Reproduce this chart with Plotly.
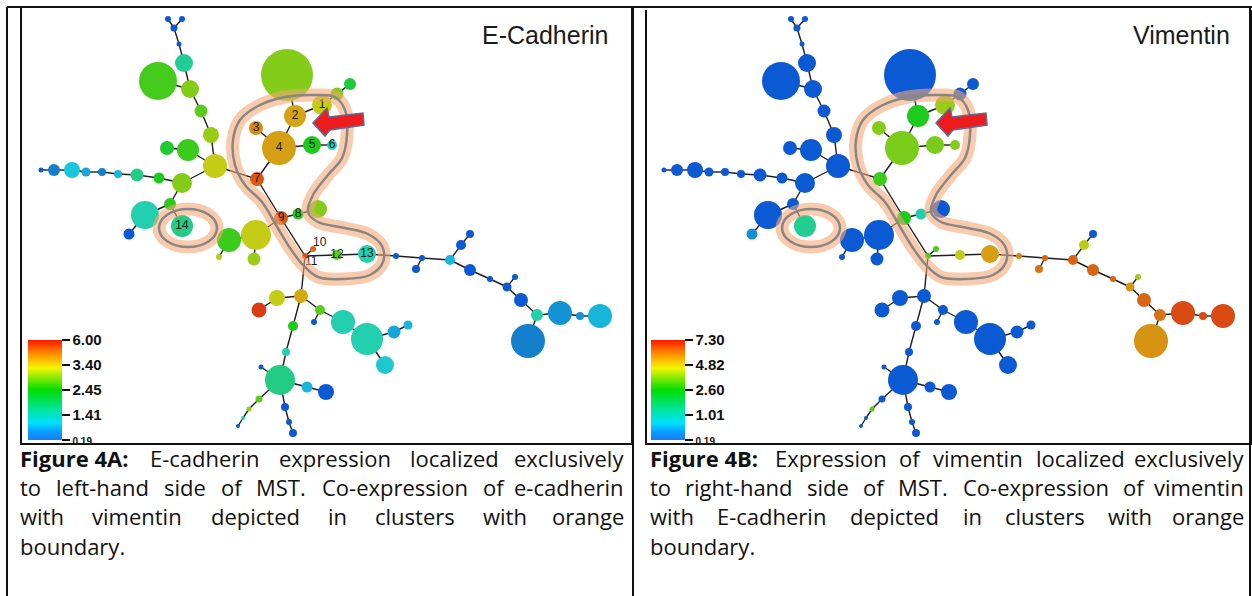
import numpy as np
import plotly.graph_objects as go

W, H = 1252, 596

# ---------------- data: MST nodes (layout px of panel image), sizes, expression ----------------
node_x = [168, 182, 174, 179, 184, 158, 190, 201, 211, 215, 188, 167, 182, 159, 137, 118, 102, 86, 72, 54,
          41, 170, 145, 129, 182, 257, 279, 256, 295, 312, 332, 287, 322, 337, 350, 281, 298, 318, 256, 254,
          229, 219, 305, 313, 337, 367, 396, 422, 416, 450, 461, 470, 470, 490, 507, 515, 521, 537, 560, 580,
          600, 528, 301, 277, 259, 320, 314, 343, 367, 394, 408, 385, 293, 286, 280, 261, 307, 326, 259, 249,
          243, 238, 285, 289, 293]
node_y = [19, 19, 28, 44, 63, 81, 89, 111, 135, 166, 150, 148, 183, 178, 175, 174, 172, 172, 170, 170,
          170, 204, 215, 234, 226, 179, 148, 128, 116, 145, 145, 75, 105, 94, 84, 218, 214, 209, 235, 259,
          240, 257, 256, 249, 255, 254, 256, 258, 269, 260, 245, 234, 270, 279, 287, 277, 300, 315, 313, 316,
          316, 341, 296, 298, 310, 310, 322, 322, 339, 332, 325, 365, 326, 352, 380, 367, 387, 392, 399, 409,
          418, 426, 407, 422, 433]
node_r = [3, 3, 3.5, 2.5, 9, 19, 9, 6.5, 8, 12, 11, 7, 10, 5.5, 6.5, 4, 4, 4.5, 8, 6,
          2.5, 6, 14, 5.5, 11, 7, 17, 7, 11, 9, 5, 26, 10, 6.5, 6, 7, 5.5, 9, 15, 6.5,
          12, 3, 3, 3, 5, 9, 3, 3, 4, 5, 5, 4, 6, 3, 4.5, 3, 7, 6, 12, 4,
          12, 17, 7, 8, 7.5, 5, 3, 12, 16, 6.5, 4.5, 9, 5, 4, 15, 2.5, 5.5, 8, 3.5, 2.5,
          2, 2, 4, 3, 4]
ecad = [0.29, 0.29, 0.29, 0.29, 2.00, 2.60, 2.83, 2.68, 2.94, 3.17,
        2.56, 2.40, 2.83, 2.45, 2.12, 1.21, 0.68, 1.02, 1.41, 0.68,
        0.29, 2.50, 1.83, 0.29, 2.12, 5.17, 3.71, 4.13, 3.60, 2.45,
        1.83, 2.83, 3.17, 2.80, 2.35, 5.17, 2.45, 2.83, 3.17, 2.94,
        2.56, 3.10, 5.30, 4.80, 2.68, 1.83, 0.29, 0.29, 0.29, 1.21,
        0.29, 0.29, 0.29, 0.29, 0.29, 0.29, 0.29, 1.83, 0.85, 0.85,
        1.21, 0.68, 3.50, 3.17, 5.79, 2.68, 0.29, 1.83, 1.83, 1.02,
        1.21, 1.50, 2.45, 1.83, 2.12, 0.29, 1.21, 0.29, 2.68, 2.90,
        1.90, 0.29, 0.29, 0.29, 0.29]
vim = [0.26, 0.26, 0.26, 0.26, 0.26, 0.26, 0.26, 0.26, 0.26, 0.26,
       0.26, 0.26, 0.26, 0.26, 0.26, 0.26, 0.26, 0.26, 0.26, 0.26,
       0.26, 0.26, 0.26, 0.62, 1.96, 2.87, 3.40, 3.49, 2.60, 3.40,
       3.49, 0.26, 3.75, 0.30, 0.26, 2.60, 1.71, 0.26, 0.26, 0.26,
       0.26, 0.26, 3.04, 3.04, 4.20, 5.12, 5.61, 6.21, 5.91, 6.21,
       4.20, 0.26, 6.21, 6.21, 5.32, 3.84, 6.21, 5.91, 6.80, 6.80,
       6.80, 5.32, 0.26, 0.26, 0.26, 0.26, 0.26, 0.26, 0.26, 0.26,
       0.26, 0.26, 0.26, 0.26, 0.26, 0.26, 0.26, 0.26, 0.26, 3.04,
       0.26, 0.26, 0.26, 0.26, 0.26]
edges = [(0, 2), (1, 2), (2, 3), (3, 4), (4, 6), (5, 6), (6, 7), (7, 8), (8, 9), (10, 9), (11, 10),
         (9, 12), (9, 25), (12, 13), (13, 14), (14, 15), (15, 16), (16, 17), (17, 18), (18, 19), (19, 20),
         (12, 21), (21, 22), (22, 23), (21, 24), (25, 26), (26, 27), (26, 28), (26, 29), (29, 30),
         (28, 31), (28, 32), (32, 33), (33, 34), (25, 35), (35, 36), (36, 37), (35, 38), (38, 39),
         (38, 40), (40, 41), (35, 42), (42, 43), (42, 44), (44, 45), (45, 46), (46, 47), (47, 48),
         (47, 49), (49, 50), (50, 51), (49, 52), (52, 53), (53, 54), (54, 55), (54, 56), (56, 57),
         (57, 58), (58, 59), (59, 60), (57, 61), (42, 62), (62, 63), (63, 64), (62, 65), (65, 66),
         (65, 67), (67, 68), (68, 69), (69, 70), (68, 71), (62, 72), (72, 73), (73, 74), (74, 75),
         (74, 76), (76, 77), (74, 78), (78, 79), (79, 80), (80, 81), (74, 82), (82, 83), (83, 84)]
cluster_labels = {32: '1', 28: '2', 27: '3', 26: '4', 29: '5', 30: '6', 25: '7', 36: '8', 35: '9',
                  43: '10', 42: '11', 44: '12', 45: '13', 24: '14'}

ecad_ticks = [0.19, 1.41, 2.45, 3.40, 6.00]
vim_ticks = [0.19, 1.01, 2.60, 4.82, 7.30]
tick_pos = [0.0, 0.25, 0.5, 0.75, 1.0]

# orange-boundary outline (annotation drawn on the MST image)
hook_x = [240, 258, 285, 315, 335, 345, 347, 342, 328, 313, 308, 318, 345, 368, 382, 383, 370, 343, 318,
          303, 290, 276, 262, 245, 235, 233, 240]
hook_y = [120, 106, 97, 95, 97, 110, 135, 158, 175, 195, 212, 222, 228, 234, 246, 262, 275, 279, 277,
          265, 248, 225, 202, 185, 165, 140, 120]

captions_left = [
    ["<b>Figure 4A:</b>", "E-cadherin", "expression", "localized", "exclusively"],
    ["to", "left-hand", "side", "of", "MST.", "Co-expression", "of", "e-cadherin"],
    ["with", "vimentin", "depicted", "in", "clusters", "with", "orange"],
    ["boundary."],
]
captions_right = [
    ["<b>Figure 4B:</b>", "Expression", "of", "vimentin", "localized", "exclusively"],
    ["to", "right-hand", "side", "of", "MST.", "Co-expression", "of", "vimentin"],
    ["with", "E-cadherin", "depicted", "in", "clusters", "with", "orange"],
    ["boundary."],
]
caption_line_y = [458, 487, 516, 546]
CAP_SIZE = 22

node_scale = [[0.0, '#0a4fd6'], [0.1, '#1480cc'], [0.17, '#14a6dc'], [0.25, '#1cc6da'],
              [0.35, '#22cfb0'], [0.42, '#22cc86'], [0.5, '#1ccb1c'], [0.6, '#84cc1a'],
              [0.7, '#cccc16'], [0.78, '#d69e12'], [0.88, '#d86a14'], [1.0, '#dc3412']]
bar_scale = [[0.0, '#1a7cf4'], [0.08, '#0a9cff'], [0.17, '#00e0ff'], [0.3, '#00e6a0'],
             [0.5, '#00dd00'], [0.72, '#f4f400'], [0.86, '#ff9000'], [1.0, '#ff1800']]

# approximate Open Sans advance widths (em)
CW = {' ': .26, 'a': .556, 'b': .613, 'c': .480, 'd': .613, 'e': .561, 'f': .336, 'g': .546, 'h': .613,
      'i': .258, 'j': .258, 'k': .529, 'l': .258, 'm': .932, 'n': .613, 'o': .602, 'p': .613, 'q': .613,
      'r': .408, 's': .476, 't': .353, 'u': .613, 'v': .500, 'w': .777, 'x': .523, 'y': .500, 'z': .468,
      '-': .322, '.': .266, ':': .266, 'A': .633, 'B': .647, 'C': .631, 'D': .730, 'E': .556, 'F': .519,
      'M': .907, 'S': .549, 'T': .553, 'V': .584, '4': .571}


def text_w(word, size):
    bold = word.startswith('<b>')
    s = word.replace('<b>', '').replace('</b>', '')
    w = sum(CW.get(ch, .55) for ch in s) * size
    return w * (1.09 if bold else 1.0)


fig = go.Figure()


def px_x(p):
    return p / W


def px_y(p):
    return 1 - p / H


def add_panel(xa, ya, values, ticks, cb_left, title, title_x, labels):
    ex, ey = [], []
    for a, b in edges:
        ex += [node_x[a], node_x[b], None]
        ey += [node_y[a], node_y[b], None]
    fig.add_trace(go.Scatter(x=ex, y=ey, mode='lines', line=dict(color='#1e1e1e', width=1.4),
                             xaxis=xa, yaxis=ya, hoverinfo='skip', showlegend=False))
    fig.add_trace(go.Scatter(
        x=node_x, y=node_y, mode='markers', xaxis=xa, yaxis=ya, showlegend=False,
        marker=dict(size=[2 * r for r in node_r], color=np.interp(values, ticks, tick_pos),
                    colorscale=node_scale, cmin=0, cmax=1, line=dict(width=0), opacity=1)))
    if labels:
        idx = list(cluster_labels.keys())
        pos = []
        for i in idx:
            if cluster_labels[i] == '10':
                pos.append('top right')
            elif cluster_labels[i] == '11':
                pos.append('bottom right')
            else:
                pos.append('middle center')
        fig.add_trace(go.Scatter(
            x=[node_x[i] for i in idx], y=[node_y[i] for i in idx], mode='text',
            text=[cluster_labels[i] for i in idx], textposition=pos,
            textfont=dict(family='Arial', size=12, color='#1a1a1a'),
            xaxis=xa, yaxis=ya, showlegend=False, hoverinfo='skip'))
    # boundary halo
    fig.add_trace(go.Scatter(x=hook_x, y=hook_y, mode='lines',
                             line=dict(color='rgba(244,165,112,0.58)', width=13, shape='spline'),
                             xaxis=xa, yaxis=ya, showlegend=False, hoverinfo='skip'))
    fig.add_trace(go.Scatter(x=hook_x, y=hook_y, mode='lines', line=dict(color='#878787', width=2.5, shape='spline'),
                             xaxis=xa, yaxis=ya, showlegend=False, hoverinfo='skip'))
    # colour bar
    ttext = [f'{t:.2f}' for t in ticks]
    ttext[0] = "<span style='font-size:10px'>" + ttext[0] + "</span>"
    fig.add_trace(go.Scatter(
        x=[-500, -500], y=[-500, -500], mode='markers', xaxis=xa, yaxis=ya, showlegend=False, hoverinfo='skip',
        marker=dict(color=[0, 1], cmin=0, cmax=1, colorscale=bar_scale, opacity=0, showscale=True,
                    colorbar=dict(x=px_x(cb_left), xanchor='left', y=px_y(440), yanchor='bottom',
                                  len=100, lenmode='pixels', thickness=34, thicknessmode='pixels',
                                  xpad=0, ypad=0, outlinewidth=0,
                                  tickvals=tick_pos, ticktext=ttext,
                                  ticks='outside', ticklen=8, tickwidth=1.5, tickcolor='#111',
                                  tickfont=dict(family='Liberation Sans, Arial', size=15, color='#111',
                                                weight='bold')))))
    # title
    fig.add_annotation(x=title_x, y=35, xref=xa, yref=ya, text=title, showarrow=False, xanchor='right',
                       yanchor='middle', font=dict(family='Liberation Sans, Arial', size=25, color='#1a1a1a'))
    # ellipse around cluster 14
    for col, lw in (('rgba(244,165,112,0.58)', 13), ('#878787', 2.5)):
        fig.add_shape(type='circle', xref=xa, yref=ya, x0=159, x1=217, y0=209, y1=247,
                      line=dict(color=col, width=lw))
    # red arrow
    fig.add_shape(type='path', xref=xa, yref=ya,
                  path='M 313,123 L 327,108 L 329,117 L 363,113 L 364,125 L 330,130 L 325,136 Z',
                  fillcolor='#ee1c1c', line=dict(color='#5a6c9c', width=1.5))


add_panel('x', 'y', ecad, ecad_ticks, 28, 'E-Cadherin', 610, True)
add_panel('x2', 'y2', vim, vim_ticks, 651, 'Vimentin', 609, False)

axis_common = dict(showgrid=False, zeroline=False, showticklabels=False, ticks='', showline=True,
                   mirror=True, linewidth=2, linecolor='#111')
fig.update_layout(
    width=W, height=H, margin=dict(l=0, r=0, t=0, b=0),
    paper_bgcolor='white', plot_bgcolor='white', showlegend=False,
    xaxis=dict(domain=[px_x(22), px_x(631)], range=[22, 631], **axis_common),
    yaxis=dict(domain=[px_y(443), px_y(8)], range=[443, 8], **axis_common),
    xaxis2=dict(domain=[px_x(647), px_x(1250)], range=[24, 627], **axis_common),
    yaxis2=dict(domain=[px_y(443), px_y(10)], range=[443, 10], anchor='x2', **axis_common),
)
for tr in fig.data:
    if tr.xaxis == 'x2':
        tr.yaxis = 'y2'

# table rules
for xx in (7, 633, 1250):
    fig.add_shape(type='line', xref='paper', yref='paper', x0=px_x(xx), x1=px_x(xx), y0=px_y(7), y1=-0.02,
                  line=dict(color='#111', width=2))
fig.add_shape(type='line', xref='paper', yref='paper', x0=px_x(7), x1=px_x(1250), y0=px_y(7), y1=px_y(7),
              line=dict(color='#111', width=2))

# captions (justified text: words spread between the column edges)
for caps, x_start, x_end in ((captions_left, 18, 626), (captions_right, 648, 1246)):
    n_lines = len(caps)
    for li, words in enumerate(caps):
        widths = [text_w(wd, CAP_SIZE) for wd in words]
        justified = li < n_lines - 1 and len(words) > 1
        gap = (x_end - x_start - sum(widths)) / (len(words) - 1) if justified else CAP_SIZE * 0.26
        xp = x_start
        for k, (wd, wdt) in enumerate(zip(words, widths)):
            if justified and k == len(words) - 1:
                fig.add_annotation(x=px_x(x_end), y=px_y(caption_line_y[li]), xref='paper', yref='paper',
                                   text=wd, showarrow=False, xanchor='right', yanchor='middle',
                                   font=dict(family='Open Sans', size=CAP_SIZE, color='#111'))
            else:
                fig.add_annotation(x=px_x(xp), y=px_y(caption_line_y[li]), xref='paper', yref='paper',
                                   text=wd, showarrow=False, xanchor='left', yanchor='middle',
                                   font=dict(family='Open Sans', size=CAP_SIZE, color='#111'))
            xp += wdt + gap

fig.write_html("out.html", config={'displayModeBar': False},
               post_script="document.body.style.margin='0';")
